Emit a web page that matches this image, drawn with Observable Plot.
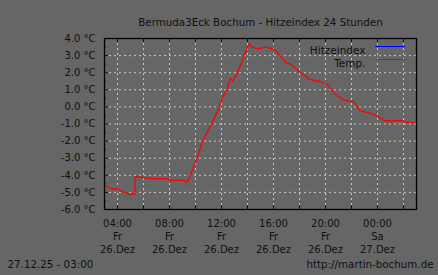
<!DOCTYPE html>
<html>
<head>
<meta charset="utf-8">
<script src="https://cdn.jsdelivr.net/npm/d3@7"></script>
<script src="https://cdn.jsdelivr.net/npm/@observablehq/plot@0.6"></script>
<style>
  html, body { margin: 0; padding: 0; background: #666666; }
  #chart { width: 438px; height: 275px; }
</style>
</head>
<body>
<div id="chart"></div>
<script>
// ---- data ----
const title = "Bermuda3Eck Bochum - Hitzeindex 24 Stunden";
const footerLeft = "27.12.25 - 03:00";
const footerRight = "http://martin-bochum.de";
const seriesNames = ["Hitzeindex", "Temp."];
const seriesColors = ["#0000ff", "#ff0000"];

const times = [
  "2025-12-26T03:05", "2025-12-26T03:20", "2025-12-26T03:35", "2025-12-26T04:05",
  "2025-12-26T04:10", "2025-12-26T04:35", "2025-12-26T04:55", "2025-12-26T05:20",
  "2025-12-26T05:22", "2025-12-26T05:40", "2025-12-26T06:30", "2025-12-26T07:55",
  "2025-12-26T08:05", "2025-12-26T09:05", "2025-12-26T09:20",
  "2025-12-26T09:30", "2025-12-26T09:45", "2025-12-26T10:00", "2025-12-26T10:15",
  "2025-12-26T10:30", "2025-12-26T10:45", "2025-12-26T11:10", "2025-12-26T11:30",
  "2025-12-26T11:50", "2025-12-26T12:05", "2025-12-26T12:25", "2025-12-26T12:40",
  "2025-12-26T12:50", "2025-12-26T13:10", "2025-12-26T13:30", "2025-12-26T13:45",
  "2025-12-26T14:00", "2025-12-26T14:10", "2025-12-26T14:20", "2025-12-26T14:50",
  "2025-12-26T15:25", "2025-12-26T15:55", "2025-12-26T16:10", "2025-12-26T16:30",
  "2025-12-26T16:55", "2025-12-26T17:20", "2025-12-26T18:05", "2025-12-26T18:50",
  "2025-12-26T19:30", "2025-12-26T20:10", "2025-12-26T20:40", "2025-12-26T21:25",
  "2025-12-26T22:10", "2025-12-26T22:40", "2025-12-26T23:05", "2025-12-26T23:58",
  "2025-12-27T00:30", "2025-12-27T01:00", "2025-12-27T01:05", "2025-12-27T01:15",
  "2025-12-27T01:55", "2025-12-27T02:10", "2025-12-27T02:55"
];
const temps = [
  -4.6, -4.7, -4.8, -4.8,
  -4.9, -5.0, -5.1, -5.1,
  -4.1, -4.1, -4.2, -4.2,
  -4.3, -4.3, -4.4,
  -4.2, -3.7, -3.2, -2.7,
  -2.1, -1.7, -1.1, -0.6,
  0.0, 0.6, 1.0, 1.7,
  1.5, 1.9, 2.5, 3.0,
  3.5, 3.7, 3.5, 3.4,
  3.5, 3.4, 3.3, 3.0,
  2.6, 2.5, 2.0, 1.6,
  1.5, 1.3, 0.8, 0.4,
  0.3, -0.2, -0.3, -0.5,
  -0.8, -0.8, -0.9, -0.8,
  -0.8, -0.9, -0.9
];

const xDomain = ["2025-12-26T03:00", "2025-12-27T03:00"];
const yDomain = [-6, 4];
const yTicks = [-6, -5, -4, -3, -2, -1, 0, 1, 2, 3, 4];
const yMinorTicks = [-5.5, -4.5, -3.5, -2.5, -1.5, -0.5, 0.5, 1.5, 2.5, 3.5];
const xTickTimes = ["2025-12-26T04:00", "2025-12-26T08:00", "2025-12-26T12:00",
                    "2025-12-26T16:00", "2025-12-26T20:00", "2025-12-27T00:00"];
const xTickLabels = ["04:00\nFr\n26.Dez", "08:00\nFr\n26.Dez", "12:00\nFr\n26.Dez",
                     "16:00\nFr\n26.Dez", "20:00\nFr\n26.Dez", "00:00\nSa\n27.Dez"];
const xGridTimes = ["2025-12-26T04:00", "2025-12-26T06:00", "2025-12-26T08:00",
                    "2025-12-26T10:00", "2025-12-26T12:00", "2025-12-26T14:00",
                    "2025-12-26T16:00", "2025-12-26T18:00", "2025-12-26T20:00",
                    "2025-12-26T22:00", "2025-12-27T00:00", "2025-12-27T02:00"];

// ---- build ----
const parse = s => new Date(s + ":00Z");
const data = times.map((t, i) => ({time: parse(t), temp: temps[i]}));
const tickDates = xTickTimes.map(parse);
const gridDates = xGridTimes.map(parse);
const labelOf = new Map(tickDates.map((d, i) => [+d, xTickLabels[i]]));

const font = "DejaVu Sans, sans-serif";
const ink = "#111";
const gridColor = "#c8c8c8";

const lineShape = {
  draw(context, l) {
    context.moveTo(0, 0);
    context.lineTo(0, -l);
  }
};

const chart = Plot.plot({
  width: 438,
  height: 275,
  marginLeft: 104,
  marginRight: 22,
  marginTop: 38,
  marginBottom: 66,
  style: {background: "#666666", fontFamily: font, fontSize: "10px", color: ink, overflow: "visible"},
  x: {type: "utc", domain: xDomain.map(parse), label: null},
  y: {domain: yDomain, label: null},
  marks: [
    // grid
    Plot.ruleY(yTicks.slice(1, -1), {stroke: gridColor, strokeDasharray: "2,3", strokeWidth: 1}),
    Plot.ruleX(gridDates, {stroke: gridColor, strokeDasharray: "2,3", strokeWidth: 1}),
    // inward ticks
    Plot.ruleY(yTicks, {stroke: ink, insetRight: 308}),
    Plot.ruleY(yMinorTicks, {stroke: ink, insetRight: 310}),
    Plot.ruleX(gridDates, {stroke: ink, insetBottom: 167}),
    Plot.ruleX(gridDates, {stroke: ink, insetTop: 167}),
    // axes
    Plot.axisY(yTicks, {tickSize: 0, tickPadding: 9, tickFormat: d => d.toFixed(1) + " \u00b0C", fill: ink, fontSize: 10, label: null}),
    Plot.axisX(tickDates, {tickSize: 0, tickPadding: 8, tickFormat: d => labelOf.get(+d), fill: ink, fontSize: 10, lineHeight: 1.3, label: null}),
    // series
    Plot.line(data, {x: "time", y: "temp", stroke: seriesColors[1], strokeWidth: 1.3}),
    Plot.frame({stroke: "#000", strokeWidth: 1.3}),
    // legend
    Plot.text([seriesNames[0]], {frameAnchor: "top-right", dx: -51, dy: 8, textAnchor: "end", fill: ink, fontSize: 10.5}),
    Plot.text([seriesNames[1]], {frameAnchor: "top-right", dx: -51, dy: 21, textAnchor: "end", fill: ink, fontSize: 10.5}),
    Plot.vector([0], {frameAnchor: "top-right", dx: -41, dy: 8, rotate: 90, length: 29, anchor: "start", shape: lineShape, stroke: seriesColors[0], strokeWidth: 1.2}),
    Plot.vector([0], {frameAnchor: "top-right", dx: -41, dy: 21, rotate: 90, length: 29, anchor: "start", shape: lineShape, stroke: seriesColors[1], strokeWidth: 1.2}),
    // title & footers
    Plot.text([title], {frameAnchor: "top", dy: -20, fill: ink, fontSize: 10.3}),
    Plot.text([footerLeft], {frameAnchor: "bottom-left", dx: -97, dy: 58, textAnchor: "start", fill: ink, fontSize: 10.3}),
    Plot.text([footerRight], {frameAnchor: "bottom-right", dx: 17, dy: 58, textAnchor: "end", fill: ink, fontSize: 10.3})
  ]
});
document.getElementById("chart").appendChild(chart);
</script>
</body>
</html>
